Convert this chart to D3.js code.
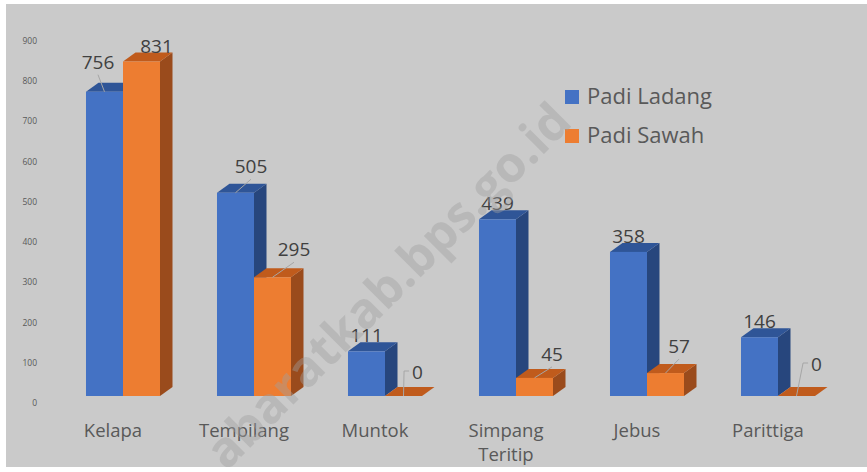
<!DOCTYPE html>
<html>
<head>
<meta charset="utf-8">
<script src="https://cdn.jsdelivr.net/npm/d3@7"></script>
<style>
  html, body { margin: 0; padding: 0; background: #fff; }
  text { font-family: "Open Sans", sans-serif; }
</style>
</head>
<body>
<div id="chart"></div>
<script>
var w = 867, h = 472;

var categories = ["Kelapa", "Tempilang", "Muntok", "Simpang Teritip", "Jebus", "Parittiga"];
var seriesNames = ["Padi Ladang", "Padi Sawah"];
var padiLadang = [756, 505, 111, 439, 358, 146];
var padiSawah = [831, 295, 0, 45, 57, 0];
var yTicks = [0, 100, 200, 300, 400, 500, 600, 700, 800, 900];

// label nudges (layout only) [series][category] -> [dx, dy]
var labelShift = [
  [[-6.5, -14], [15.5, -10.5], [0, 0], [0, 0], [0, 0], [0, 0]],
  [[15, 0], [21.5, -12], [14, -8], [17.5, -8], [13.5, -11], [20, -16]]
];

var colors = {
  front: ["#4472c4", "#ed7d31"],
  top: ["#2f5597", "#c05b1c"],
  side: ["#27467d", "#9a4b1c"]
};

var DX = 12.5, DY = -9;   // depth offset of the 3d boxes
var BASE = 396;

var svg = d3.select("#chart").append("svg")
  .attr("width", w).attr("height", h);

svg.append("rect")
  .attr("x", 6).attr("y", 4).attr("width", w - 6).attr("height", 463)
  .attr("fill", "#cacaca");

var y = d3.scaleLinear().domain([0, 900]).range([BASE, BASE - 900 * 0.4025]);

var x0 = d3.scaleBand().domain(categories)
  .range([57.5, 843.5]).paddingInner(0.435).paddingOuter(0.2175);
var x1 = d3.scaleBand().domain(seriesNames).range([0, x0.bandwidth()]);

// y tick labels
svg.append("g").selectAll("text")
  .data(yTicks).enter().append("text")
  .attr("x", 37).attr("y", function(d) { return y(d) + 10; })
  .attr("text-anchor", "end")
  .attr("font-size", 8.5)
  .attr("fill", "#595959")
  .text(function(d) { return d; });

var seriesData = [padiLadang, padiSawah];
var bars = [];
seriesData.forEach(function(vals, s) {
  vals.forEach(function(v, i) {
    bars.push({ s: s, i: i, v: v, cat: categories[i], name: seriesNames[s] });
  });
});

function poly(pts) { return "M" + pts.join("L") + "Z"; }

svg.append("clipPath").attr("id", "clipbg")
  .append("rect").attr("x", 6).attr("y", 4).attr("width", w - 6).attr("height", 463);

var gBars = svg.append("g");
categories.forEach(function(cat, i) {
  [0, 1].forEach(function(s) {
    var d = bars.filter(function(b) { return b.i == i && b.s == s; })[0];
    var bx = x0(cat) + x1(d.name), bw = x1.bandwidth(), yt = y(d.v);
    var g = gBars.append("g");
    g.append("path")
      .attr("d", poly([[bx + bw, yt], [bx + bw + DX, yt + DY], [bx + bw + DX, BASE + DY], [bx + bw, BASE]]))
      .attr("fill", colors.side[s]);
    g.append("path")
      .attr("d", poly([[bx, yt], [bx + bw, yt], [bx + bw + DX, yt + DY], [bx + DX, yt + DY]]))
      .attr("fill", colors.top[s]);
    if (d.v > 0) {
      g.append("rect")
        .attr("x", bx).attr("y", yt).attr("width", bw).attr("height", BASE - yt)
        .attr("fill", colors.front[s]);
    }
  });
});

// data labels + leader lines
var gLab = svg.append("g");
bars.forEach(function(d) {
  var bx = x0(d.cat) + x1(d.name), bw = x1.bandwidth(), yt = y(d.v);
  var sh = labelShift[d.s][d.i];
  var lx = bx + bw / 2 + sh[0], ly = yt + DY + sh[1];
  var px = bx + bw / 2, py = yt;
  var t = gLab.append("text")
    .attr("x", lx).attr("y", ly)
    .attr("text-anchor", "middle")
    .attr("font-size", 19)
    .attr("fill", "#404040")
    .text(d.v);
  if (sh[1] < -5) {
    var tw = t.node().getComputedTextLength();
    var path;
    if (d.v == 0) {
      var left = lx - tw / 2;
      path = "M" + (left - 3) + "," + (ly - 8) + "H" + (left - 8) + "L" + px + "," + py;
    } else {
      path = "M" + lx + "," + (ly + 6) + "L" + px + "," + py;
    }
    gLab.append("path").attr("d", path)
      .attr("fill", "none").attr("stroke", "#a6a6a6").attr("stroke-width", 1);
  }
});

// category labels
svg.append("g").selectAll("text")
  .data(categories).enter().append("text")
  .attr("x", function(d) { return x0(d) + x0.bandwidth() / 2 - 10; })
  .attr("y", 437)
  .attr("text-anchor", "middle")
  .attr("font-size", 18.5)
  .attr("fill", "#595959")
  .each(function(d) {
    var el = d3.select(this);
    var words = d.split(" ");
    if (words.length > 1 && d.length > 10) {
      words.forEach(function(wd, k) {
        el.append("tspan").attr("x", el.attr("x")).attr("dy", k ? 24 : 0).text(wd);
      });
    } else {
      el.text(d);
    }
  });

// legend
var leg = svg.append("g").attr("transform", "translate(565,90)");
seriesNames.forEach(function(n, s) {
  leg.append("rect").attr("x", 0).attr("y", s * 39).attr("width", 14).attr("height", 14)
    .attr("fill", colors.front[s]);
  leg.append("text").attr("x", 22).attr("y", s * 39 + 14)
    .attr("font-size", 22).attr("fill", "#595959").text(n);
});

// watermark on top
svg.append("g").attr("clip-path", "url(#clipbg)")
  .append("text")
  .attr("transform", "translate(574,124) rotate(-45)")
  .attr("text-anchor", "end")
  .attr("font-size", 49.5)
  .attr("font-weight", "bold")
  .attr("fill", "#a0a0a0")
  .attr("fill-opacity", 0.42)
  .text("abaratkab.bps.go.id");
</script>
</body>
</html>
